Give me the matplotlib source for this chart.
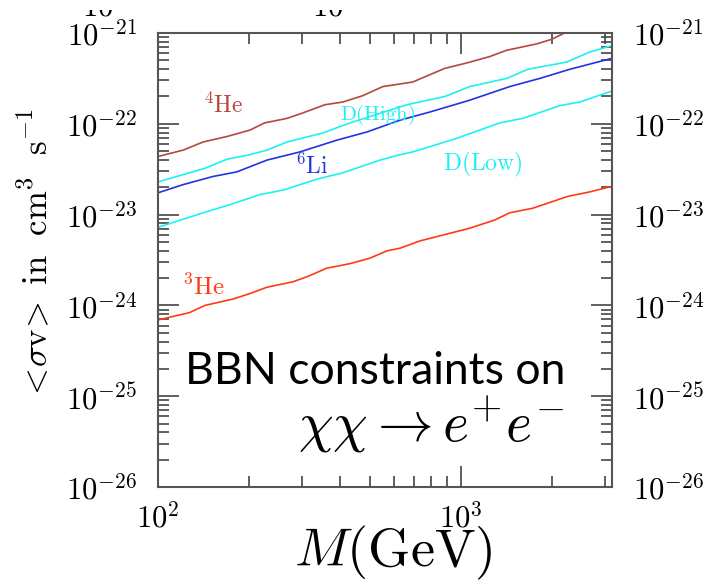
import numpy as np
import matplotlib
matplotlib.use("Agg")
import matplotlib.pyplot as plt
from matplotlib.patches import Rectangle
from matplotlib.ticker import LogLocator, FixedLocator, FuncFormatter, NullFormatter

plt.rcParams['mathtext.fontset'] = 'cm'

# mass in GeV, log10 of <sigma v> in cm^3 s^-1
he4_m = [100, 121, 141, 169, 201, 225, 267, 301, 356, 408, 475, 553, 694, 885, 1047, 1246,
         1419, 1781, 1997, 2203]
he4_logsv = [-22.36, -22.29, -22.20, -22.14, -22.07, -21.99, -21.94, -21.88, -21.79, -21.76,
             -21.69, -21.59, -21.54, -21.39, -21.33, -21.26, -21.19, -21.12, -21.07, -21.00]

dhigh_m = [100, 143, 169, 201, 229, 267, 351, 431, 664, 885, 1071, 1419, 1665, 2239, 2667, 3148]
dhigh_logsv = [-22.64, -22.49, -22.39, -22.34, -22.29, -22.20, -22.10, -21.99, -21.79, -21.70,
               -21.59, -21.50, -21.40, -21.32, -21.21, -21.14]

li6_m = [100, 121, 152, 182, 229, 294, 390, 490, 630, 791, 1071, 1452, 1825, 2291, 3148]
li6_logsv = [-22.76, -22.67, -22.58, -22.53, -22.40, -22.31, -22.18, -22.09, -21.96, -21.87,
             -21.74, -21.59, -21.50, -21.40, -21.28]

dlow_m = [100, 141, 173, 217, 259, 335, 408, 541, 630, 694, 970, 1346, 1603, 2125, 2473, 3148]
dlow_logsv = [-23.14, -22.98, -22.89, -22.78, -22.73, -22.61, -22.54, -22.40, -22.34, -22.31,
              -22.16, -21.99, -21.94, -21.80, -21.76, -21.64]

he3_m = [100, 127, 143, 177, 201, 229, 279, 313, 361, 431, 501, 570, 630, 733, 1071, 1294,
         1452, 1729, 2254, 2667, 3148]
he3_logsv = [-24.16, -24.08, -24.00, -23.93, -23.87, -23.80, -23.74, -23.68, -23.59, -23.54,
             -23.48, -23.40, -23.37, -23.29, -23.15, -23.06, -22.98, -22.93, -22.80, -22.75, -22.69]

c_he4, c_d, c_li6, c_he3 = '#b5473c', '#1ff0f0', '#2233e0', '#ff3a1a'
curves = [
    (he4_m, he4_logsv, c_he4),
    (dhigh_m, dhigh_logsv, c_d),
    (li6_m, li6_logsv, c_li6),
    (dlow_m, dlow_logsv, c_d),
    (he3_m, he3_logsv, c_he3),
]

W, H = 726, 586
fig = plt.figure(figsize=(W / 100, H / 100), dpi=100)
ax = fig.add_axes([158 / W, 1 - 487 / H, 454 / W, 454 / H])

for m, lsv, c in curves:
    ax.plot(m, 10 ** np.array(lsv), color=c, lw=1.2)

ax.set_xscale('log')
ax.set_yscale('log')
ax.set_xlim(100, 3160)
ax.set_ylim(1e-26, 1e-21)

for s in ax.spines.values():
    s.set_color('#555555')
    s.set_linewidth(1.5)

ax.yaxis.set_major_locator(LogLocator(base=10, numticks=10))
ax.yaxis.set_minor_locator(LogLocator(base=10, subs=np.arange(2, 10), numticks=10))
ax.xaxis.set_major_locator(FixedLocator([100, 1000]))
ax.xaxis.set_minor_locator(LogLocator(base=10, subs=np.arange(2, 10), numticks=10))
fmt = FuncFormatter(lambda v, p: r'$10^{%d}$' % round(np.log10(v)))
ax.xaxis.set_major_formatter(fmt)
ax.yaxis.set_major_formatter(fmt)
ax.xaxis.set_minor_formatter(NullFormatter())
ax.yaxis.set_minor_formatter(NullFormatter())

ax.tick_params(which='both', direction='in', top=True, right=True, color='#444444', width=1.2)
ax.tick_params(which='major', length=15)
ax.tick_params(which='minor', length=8)
ax.tick_params(axis='y', labelsize=22, pad=15, labelright=True)
ax.tick_params(axis='x', labelsize=22, pad=11)

# top labels that are cut off by the slide edge
fig.text(113 / W, 1 - 16 / H, r'$10$', fontsize=22, ha='right', va='baseline')
fig.text(328 / W, 1 - 16 / H, r'$10$', fontsize=22, ha='center', va='baseline')
fig.patches.append(Rectangle((0, 1 - 10 / H), 1, 10 / H, transform=fig.transFigure,
                             facecolor='white', edgecolor='none', zorder=10))

# curve labels
fig.text(203 / W, 1 - 113 / H, r'$^{4}\mathrm{He}$', color=c_he4, fontsize=17)
fig.text(340 / W, 1 - 120 / H, r'$\mathrm{D(High)}$', color=c_d, fontsize=15)
fig.text(295 / W, 1 - 174 / H, r'$^{6}\mathrm{Li}$', color=c_li6, fontsize=17)
fig.text(443 / W, 1 - 170 / H, r'$\mathrm{D(Low)}$', color=c_d, fontsize=17)
fig.text(182 / W, 1 - 295 / H, r'$^{3}\mathrm{He}$', color=c_he3, fontsize=18)

fig.text(375 / W, 1 - 372 / H, 'BBN constraints on', family=['Lato', 'DejaVu Sans'],
         fontsize=32, ha='center', va='center')
fig.text(431 / W, 1 - 425 / H, r'$\chi\chi \rightarrow e^{+}e^{-}$', fontsize=40,
         ha='center', va='center')

fig.text(393 / W, 1 - 553 / H, r'$M(\mathrm{GeV})$', fontsize=39, ha='center', va='center')
fig.text(36 / W, 1 - 255 / H, r'$<\!\sigma\mathrm{v}\!>\ \mathrm{in}\ \ \mathrm{cm^{3}}\ \ \mathrm{s^{-1}}$',
         fontsize=25, rotation=90, ha='center', va='center')

fig.savefig('out.png', dpi=100)
